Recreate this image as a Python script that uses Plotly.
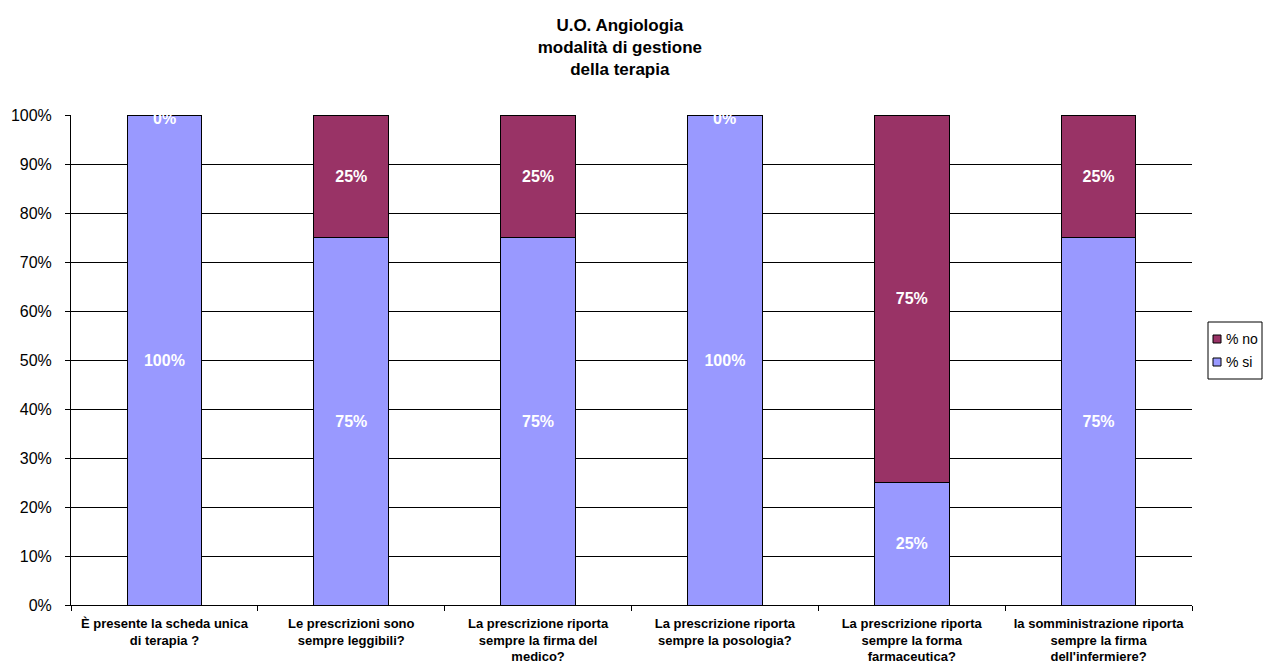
import plotly.graph_objects as go

categories = [
    "È presente la scheda unica<br>di terapia ?",
    "Le prescrizioni sono<br>sempre leggibili?",
    "La prescrizione riporta<br>sempre la firma del<br>medico?",
    "La prescrizione riporta<br>sempre la posologia?",
    "La prescrizione riporta<br>sempre la forma<br>farmaceutica?",
    "la somministrazione riporta<br>sempre la firma<br>dell'infermiere?",
]
series_names = ["% si", "% no"]
series_colors = ["#9999FF", "#993366"]
si_values = [100, 75, 75, 100, 25, 75]
no_values = [0, 25, 25, 0, 75, 25]
y_ticks = [0, 10, 20, 30, 40, 50, 60, 70, 80, 90, 100]

FONT = "Liberation Sans, Arial, sans-serif"
LBL = dict(color="white", size=16, family=FONT, weight="bold")

# figure-pixel geometry of the plot area
L, R, T, B = 63, 88, 107, 73
W, H = 1272, 670
PW, PH = W - L - R, H - T - B

def px(x):
    return (x - L) / PW

def py(y):
    return (H - B - y) / PH

def labels(vals):
    return [f"{v}%" if v > 0 else "" for v in vals]

fig = go.Figure()
for name, color, vals in zip(series_names, series_colors, [si_values, no_values]):
    fig.add_trace(go.Bar(
        name=name, x=categories, y=vals,
        marker=dict(color=color, line=dict(color="black", width=1)),
        text=labels(vals), textposition="inside", insidetextanchor="middle",
        textangle=0, constraintext="none", textfont=LBL,
        showlegend=False,
    ))

# zero-value labels shown at the top of the stack
for c, s, n in zip(categories, si_values, no_values):
    if n == 0:
        fig.add_annotation(x=c, y=s + n, text="0%", showarrow=False,
                           yanchor="middle", yshift=-3, font=LBL)

# legend box (drawn manually so it fits the narrow right margin)
fig.add_shape(type="rect", xref="paper", yref="paper",
              x0=px(1200), x1=px(1254), y0=py(314), y1=py(371),
              line=dict(color="black", width=1), fillcolor="white")
legend_rows = [(series_names[1], series_colors[1], 331),
               (series_names[0], series_colors[0], 354)]
for name, color, yc in legend_rows:
    fig.add_shape(type="rect", xref="paper", yref="paper",
                  x0=px(1205), x1=px(1213), y0=py(yc + 4), y1=py(yc - 4),
                  line=dict(color="black", width=1), fillcolor=color)
    fig.add_annotation(xref="paper", yref="paper", x=px(1216), y=py(yc),
                       xanchor="left", yanchor="middle", text=name,
                       showarrow=False, font=dict(size=14, family=FONT, color="black"))

fig.update_layout(
    barmode="stack",
    bargap=0.6,
    width=W, height=H,
    paper_bgcolor="white", plot_bgcolor="white",
    margin=dict(l=L, r=R, t=T, b=B, autoexpand=False),
    font=dict(family=FONT, color="black"),
    title=dict(
        text="<b>U.O. Angiologia<br>modalità di gestione<br>della terapia</b>",
        x=0.481, xanchor="center", xref="container",
        y=1 - 23 / 670, yanchor="top",
        font=dict(size=17, family=FONT, color="black"),
    ),
    showlegend=False,
)
fig.update_xaxes(
    type="category", automargin=False,
    showline=True, linecolor="black", linewidth=1,
    ticks="outside", tickson="boundaries", ticklen=5, tickcolor="black",
    tickangle=0, ticklabelstandoff=6,
    tickfont=dict(size=13, family=FONT, weight="bold"),
    showgrid=False,
)
fig.update_yaxes(
    range=[0, 100], automargin=False,
    tickvals=y_ticks, ticktext=[f"{v}%" for v in y_ticks],
    showline=True, linecolor="black", linewidth=1,
    ticks="outside", ticklen=5, tickcolor="black",
    ticklabelstandoff=10,
    showgrid=True, gridcolor="black", gridwidth=1,
    tickfont=dict(size=16, family=FONT),
    zeroline=False,
)

fig.write_html("out.html")
